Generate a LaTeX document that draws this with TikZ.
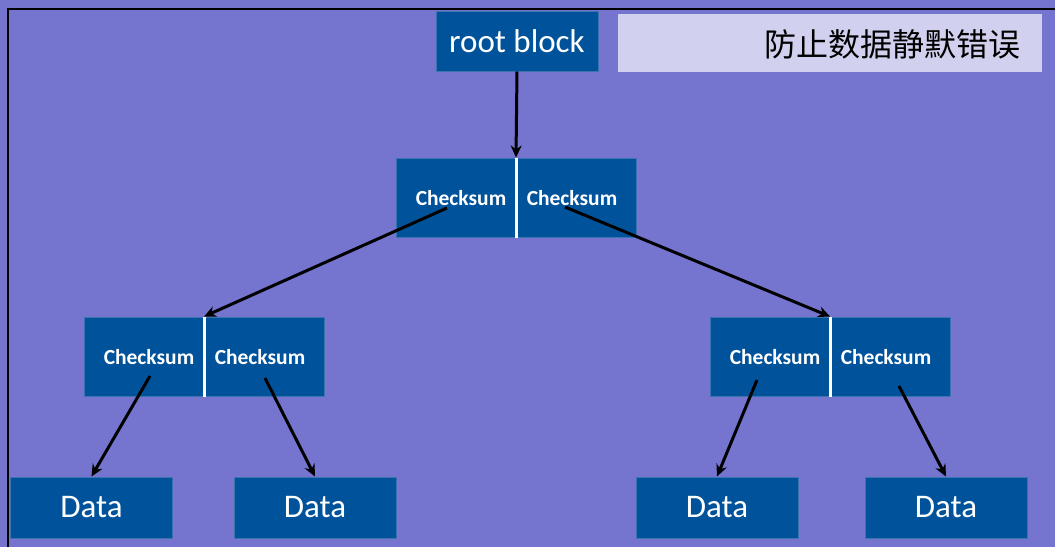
\documentclass[tikz,border=0pt]{standalone}
\usepackage{fontspec}
\setmainfont{Carlito}
\newfontfamily\cjk{Noto Sans CJK SC}
\usetikzlibrary{arrows.meta}
\definecolor{bgc}{HTML}{7575D0}
\definecolor{boxc}{HTML}{00539B}
\definecolor{boxline}{HTML}{3B74AE}
\definecolor{lightc}{HTML}{D1D1EF}
\tikzset{
  blue box/.style={draw=boxline, line width=1pt, fill=boxc, inner sep=0pt},
  pairbox/.style={blue box, minimum width=240pt, minimum height=79pt},
  databox/.style={blue box, minimum width=162pt, minimum height=61pt, text=white, font=\fontsize{33}{38}\selectfont},
  cslabel/.style={text=white, font=\bfseries\fontsize{21.5}{25}\selectfont, inner sep=0pt},
  divider/.style={white, line width=3pt},
  link/.style={black, line width=3pt, -{Stealth[length=12pt,width=11pt]}},
}
\begin{document}
\begin{tikzpicture}[x=1pt,y=-1pt]
\useasboundingbox (0,0) rectangle (1055,547);
\fill[bgc] (0,0) rectangle (1055,547);
\draw[black, line width=2pt] (1055,8.5) -- (7.5,8.5) -- (7.5,547);
% root
\node[blue box, minimum width=162pt, minimum height=60pt, text=white, font=\fontsize{33}{38}\selectfont] (root) at (517,41) {root block};
% title
\node[fill=lightc, minimum width=424pt, minimum height=58pt, inner sep=0pt] (title) at (830,43) {};
\node[anchor=east, inner sep=0pt, font=\cjk\fontsize{32}{38}\selectfont] (titletext) at (1021,44) {防止数据静默错误};
% top pair
\node[pairbox] (tp) at (516,197.5) {};
\draw[divider] (tp.north) -- (tp.south);
\node[cslabel] (tpa) at (461,198) {Checksum};
\node[cslabel] (tpb) at (572,198) {Checksum};
% left pair
\node[pairbox] (lp) at (204,356.5) {};
\draw[divider] (lp.north) -- (lp.south);
\node[cslabel] (lpa) at (149,357) {Checksum};
\node[cslabel] (lpb) at (260,357) {Checksum};
% right pair
\node[pairbox] (rp) at (830,356.5) {};
\draw[divider] (rp.north) -- (rp.south);
\node[cslabel] (rpa) at (775,357) {Checksum};
\node[cslabel] (rpb) at (886,357) {Checksum};
% data
\node[databox] (d1) at (91.5,507.5) {Data};
\node[databox] (d2) at (315,507.5) {Data};
\node[databox] (d3) at (717,507.5) {Data};
\node[databox] (d4) at (946,507.5) {Data};
% start points
\coordinate (s1) at (447,208);
\coordinate (s2) at (565,207);
\coordinate (s3) at (150,376);
\coordinate (s4) at (265,378);
\coordinate (s5) at (757,380);
\coordinate (s6) at (899,386);
% arrows
\draw[link] (root.south) -- (tp.north);
\draw[link] (s1) -- (lp.north);
\draw[link] (s2) -- (rp.north);
\draw[link] (s3) -- (d1.north);
\draw[link] (s4) -- (d2.north);
\draw[link] (s5) -- (d3.north);
\draw[link] (s6) -- (d4.north);
\end{tikzpicture}
\end{document}
